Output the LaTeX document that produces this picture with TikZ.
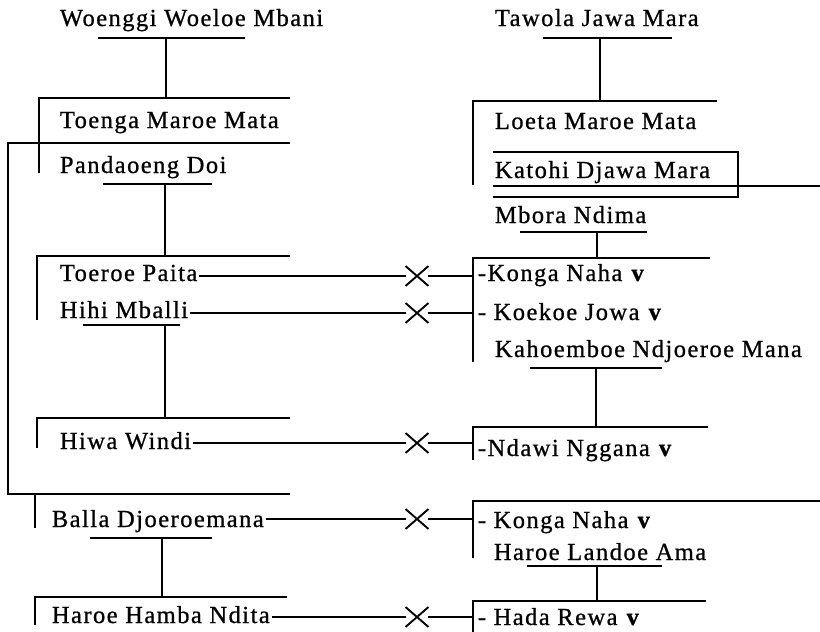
\documentclass[tikz,border=0pt]{standalone}
\usepackage{fontspec}
\setmainfont{Liberation Serif}[LetterSpace=6,FakeBold=0.8]
\usepackage{tikz}
\usetikzlibrary{shapes.misc}
\tikzstyle{person}=[anchor=base west, inner sep=1pt, font=\fontsize{24.5}{28}\selectfont]
\tikzstyle{marriage}=[cross out, draw, line width=1.9pt, minimum width=21pt, minimum height=18pt, inner sep=0pt]

\begin{document}
\begin{tikzpicture}[x=1pt, y=-1pt, line width=1.8pt]
                \useasboundingbox (0,0) rectangle (820,632);
                % left line
                \node[person] (woenggi) at (58,26) {Woenggi Woeloe Mbani};
                \node[person] (toenga) at (58,128) {Toenga Maroe Mata};
                \node[person] (pandaoeng) at (58,173) {Pandaoeng Doi};
                \node[person] (toeroe) at (58,281) {Toeroe Paita};
                \node[person] (hihi) at (58,318) {Hihi Mballi};
                \node[person] (hiwa) at (58,449) {Hiwa Windi};
                \node[person] (balla) at (50,527) {Balla Djoeroemana};
                \node[person] (hamba) at (50,623) {Haroe Hamba Ndita};
                % right line
                \node[person] (tawola) at (493,26) {Tawola Jawa Mara};
                \node[person] (loeta) at (493,129) {Loeta Maroe Mata};
                \node[person] (katohi) at (493,178) {Katohi Djawa Mara};
                \node[person] (mbora) at (493,223) {Mbora Ndima};
                \node[person] (konga) at (476,281) {-Konga Naha \textbf{v}};
                \node[person] (koekoe) at (476,320) {- Koekoe Jowa \textbf{v}};
                \node[person] (kahoemboe) at (493,357) {Kahoemboe Ndjoeroe Mana};
                \node[person] (ndawi) at (476,456) {-Ndawi Nggana \textbf{v}};
                \node[person] (kongab) at (476,528) {- Konga Naha \textbf{v}};
                \node[person] (landoe) at (492,560) {Haroe Landoe Ama};
                \node[person] (hada) at (476,625) {- Hada Rewa \textbf{v}};
                % crosses
                \node[marriage] (m1) at (417,276) {};
                \node[marriage] (m2) at (417,313) {};
                \node[marriage] (m3) at (417,443) {};
                \node[marriage] (m4) at (417,519) {};
                \node[marriage] (m5) at (417,617) {};
                \coordinate (br) at (473,0);
                % left brackets
                \draw (98,38)--(245,38);
                \draw (166,38)--(166,98);
                \draw (39,173)--(39,98)--(290,98);
                \draw (290,143)--(8,143)--(8,494)--(290,494);
                \draw (103,184)--(212,184);
                \draw (165,184)--(165,256);
                \draw (37,320)--(37,256)--(290,256);
                \draw (83,325)--(180,325);
                \draw (165,325)--(165,418);
                \draw (37,448)--(37,418)--(290,418);
                \draw (35,494)--(35,528);
                \draw (90,538)--(212,538);
                \draw (162,538)--(162,597);
                \draw (35,625)--(35,597)--(287,597);
                % right brackets
                \draw (543,38)--(672,38);
                \draw (600,38)--(600,101);
                \draw (473,185)--(473,101)--(717,101);
                \draw (493,152)--(738,152)--(738,197)--(493,197);
                \draw (493,186)--(820,186);
                \draw (520,232)--(647,232);
                \draw (597,232)--(597,258);
                \draw (473,362)--(473,258)--(710,258);
                \draw (530,368)--(662,368);
                \draw (596,368)--(596,427);
                \draw (473,460)--(473,427)--(708,427);
                \draw (473,558)--(473,501)--(820,501);
                \draw (527,566)--(662,566);
                \draw (597,566)--(597,601);
                \draw (473,632)--(473,601)--(706,601);
                % marriages
                \draw (toeroe.base east |- m1)--(m1.west);
                \draw (m1.east)--(m1 -| br);
                \draw (hihi.base east |- m2)--(m2.west);
                \draw (m2.east)--(m2 -| br);
                \draw (hiwa.base east |- m3)--(m3.west);
                \draw (m3.east)--(m3 -| br);
                \draw (balla.base east |- m4)--(m4.west);
                \draw (m4.east)--(m4 -| br);
                \draw (hamba.base east |- m5)--(m5.west);
                \draw (m5.east)--(m5 -| br);
            \end{tikzpicture}
\end{document}
